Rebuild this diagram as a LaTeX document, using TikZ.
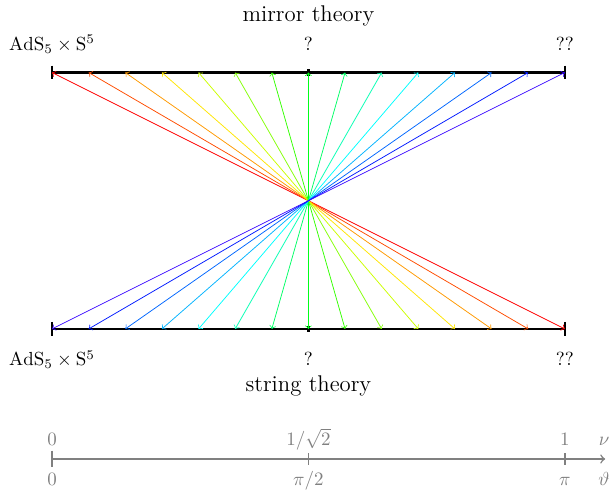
\documentclass[tikz,border=0pt]{standalone}
\usepackage{tikz}
\usepackage{amssymb}

\begin{document}
\begin{tikzpicture}[x=0.68cm, y=0.68cm,
    bar/.style={very thick},
    lbl/.style={anchor=base},
    axlbl/.style={anchor=base, text=gray}]
    \useasboundingbox (-1.42,-4.39) rectangle (15.26,8.98);
    % Mittelpunkt und Endpunkte auf den Balken
    \coordinate (c) at (7,3.5);
    \foreach \k in {0,...,14} {
        \coordinate (t\k) at (\k,7);
        \coordinate (b\k) at (\k,0);
    }

    % Balken mit Endmarken
    \draw[bar] (t0) -- (t14);
    \draw[bar] (b0) -- (b14);
    \foreach \p in {t0,t14,b0,b14}
        \draw[bar] (\p) +(0,0.19) -- +(0,-0.19);
    \foreach \p in {t7,b7}
        \draw[bar] (\p) +(0,0.09) -- +(0,-0.09);

    % Strahlen durch den Mittelpunkt
    \foreach \k in {0,...,14} {
        \pgfmathsetmacro{\hue}{0.7*\k/14}
        \pgfmathtruncatemacro{\m}{14-\k}
        \definecolor{raycol}{hsb}{\hue,1,1}
        \draw[->, raycol] (c) -- (t\k);
        \draw[->, raycol] (c) -- (b\m);
    }

    % Beschriftungen
    \node[lbl, font=\large] (mirror) at (7,8.38) {mirror theory};
    \node[lbl, font=\large] (string) at (7,-1.72) {string theory};
    \node[lbl] (tl) at (0,7.61) {$\mathrm{AdS}_5\times\mathrm{S}^5$};
    \node[lbl] (tm) at (7,7.61) {?};
    \node[lbl] (tr) at (14,7.61) {??};
    \node[lbl] (bl) at (0,-1.01) {$\mathrm{AdS}_5\times\mathrm{S}^5$};
    \node[lbl] (bm) at (7,-1.01) {?};
    \node[lbl] (br) at (14,-1.01) {??};

    % Achse
    \coordinate (a0) at (0,-3.55);
    \coordinate (a1) at (7,-3.55);
    \coordinate (a2) at (14,-3.55);
    \coordinate (aend) at (15.1,-3.55);
    \draw[->, thick, gray] (a0) -- (aend);
    \draw[thick, gray] (a0) +(0,0.23) -- +(0,-0.23);
    \foreach \p in {a1,a2}
        \draw[thick, gray] (\p) +(0,0.16) -- +(0,-0.16);
    \node[axlbl] (nu0) at (0,-3.19) {$0$};
    \node[axlbl] (nu1) at (7,-3.19) {$1/\sqrt{2}$};
    \node[axlbl] (nu2) at (14,-3.19) {$1$};
    \node[axlbl] (nu) at (15.07,-3.19) {$\nu$};
    \node[axlbl] (th0) at (0,-4.27) {$0$};
    \node[axlbl] (th1) at (7,-4.27) {$\pi/2$};
    \node[axlbl] (th2) at (14,-4.27) {$\pi$};
    \node[axlbl] (th) at (15.07,-4.27) {$\vartheta$};
\end{tikzpicture}
\end{document}
